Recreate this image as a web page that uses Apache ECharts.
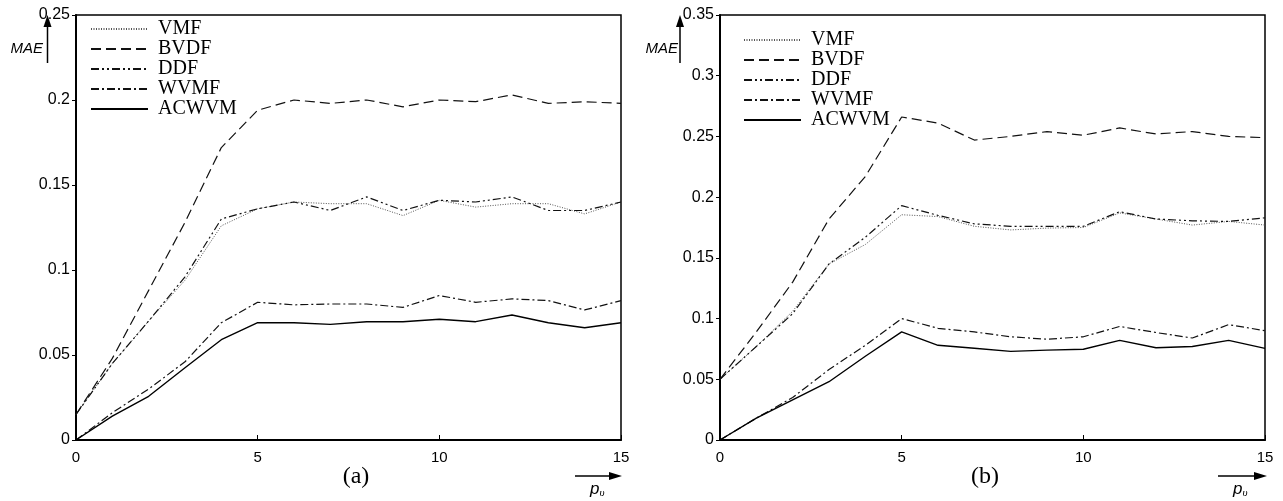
<!DOCTYPE html>
<html>
<head>
<meta charset="utf-8">
<script src="https://cdn.jsdelivr.net/npm/echarts@6/dist/echarts.min.js"></script>
<style>
  html, body { margin: 0; padding: 0; background: #fff; }
  #main { width: 1283px; height: 501px; }
</style>
</head>
<body>
<div id="main"></div>
<script>
// p_v 取值
var pv = [0, 1, 2, 3, 4, 5, 6, 7, 8, 9, 10, 11, 12, 13, 14, 15];
var names = ['VMF', 'BVDF', 'DDF', 'WVMF', 'ACWVM'];

// (a) 图
var vmfA   = [0.015, 0.045, 0.070, 0.094, 0.126, 0.136, 0.140, 0.139, 0.139, 0.132, 0.141, 0.137, 0.139, 0.139, 0.133, 0.140];
var bvdfA  = [0.015, 0.048, 0.088, 0.128, 0.172, 0.194, 0.200, 0.198, 0.200, 0.196, 0.200, 0.199, 0.203, 0.198, 0.199, 0.198];
var ddfA   = [0.015, 0.045, 0.070, 0.096, 0.130, 0.136, 0.140, 0.135, 0.143, 0.135, 0.141, 0.140, 0.143, 0.135, 0.135, 0.140];
var wvmfA  = [0, 0.016, 0.030, 0.046, 0.069, 0.081, 0.0795, 0.080, 0.080, 0.078, 0.085, 0.081, 0.083, 0.082, 0.0765, 0.082];
var acwvmA = [0, 0.014, 0.0257, 0.0425, 0.059, 0.069, 0.069, 0.068, 0.0696, 0.0696, 0.071, 0.0696, 0.0735, 0.069, 0.066, 0.069];

// (b) 图
var vmfB   = [0.05, 0.077, 0.106, 0.145, 0.161, 0.1855, 0.184, 0.176, 0.173, 0.1745, 0.175, 0.187, 0.182, 0.177, 0.180, 0.177];
var bvdfB  = [0.05, 0.089, 0.130, 0.182, 0.217, 0.266, 0.261, 0.247, 0.250, 0.254, 0.251, 0.257, 0.252, 0.254, 0.250, 0.249];
var ddfB   = [0.05, 0.077, 0.104, 0.145, 0.167, 0.193, 0.185, 0.178, 0.176, 0.176, 0.176, 0.188, 0.182, 0.1805, 0.180, 0.183];
var wvmfB  = [0, 0.018, 0.035, 0.058, 0.078, 0.100, 0.092, 0.089, 0.085, 0.083, 0.085, 0.0935, 0.0885, 0.084, 0.095, 0.090];
var acwvmB = [0, 0.018, 0.033, 0.048, 0.069, 0.089, 0.078, 0.0755, 0.073, 0.074, 0.0747, 0.082, 0.076, 0.077, 0.082, 0.0755];

var yTicksA = [0, 0.05, 0.1, 0.15, 0.2, 0.25];
var yTicksB = [0, 0.05, 0.1, 0.15, 0.2, 0.25, 0.3, 0.35];

// 线型
var styles = {
  VMF:   { type: [1, 1.5], width: 1, color: '#555' },
  BVDF:  { type: [10, 5], width: 1.2, color: '#111' },
  DDF:   { type: [8, 3, 2, 3, 2, 3], width: 1.2, color: '#111' },
  WVMF:  { type: [8, 3, 2, 3], width: 1.2, color: '#111' },
  ACWVM: { type: 'solid', width: 1.4, color: '#000' }
};

function pairs(arr) {
  return pv.map(function (x, i) { return [x, arr[i]]; });
}

function mkSeries(name, arr, idx) {
  var s = styles[name];
  return {
    name: name,
    type: 'line',
    xAxisIndex: idx,
    yAxisIndex: idx,
    data: pairs(arr),
    symbol: 'none',
    animation: false,
    color: s.color,
    lineStyle: { type: s.type, width: s.width, color: s.color }
  };
}

function xAx(idx) {
  return {
    type: 'value', gridIndex: idx, min: 0, max: 15, interval: 5,
    axisLine: { lineStyle: { color: '#000', width: 2 } },
    axisTick: { inside: true, length: 5, lineStyle: { color: '#000' } },
    axisLabel: { color: '#000', fontSize: 15, fontFamily: 'Liberation Sans', margin: 10 },
    splitLine: { show: false }
  };
}

function yAx(idx, ticks) {
  return {
    type: 'value', gridIndex: idx, min: 0, max: ticks[ticks.length - 1], interval: 0.05,
    axisLine: { show: true, lineStyle: { color: '#000', width: 2 } },
    axisTick: { show: true, length: 4, lineStyle: { color: '#000' } },
    axisLabel: {
      color: '#000', fontSize: 16, fontFamily: 'Liberation Sans', margin: 6,
      formatter: function (v) { return String(+v.toFixed(2)); }
    },
    splitLine: { show: false }
  };
}

function legendAt(left, top) {
  return {
    orient: 'vertical', left: left, top: top,
    data: names, itemWidth: 57, itemHeight: 10, itemGap: 0,
    padding: 5,
    itemStyle: { opacity: 0 },
    textStyle: { fontFamily: 'Liberation Serif', fontSize: 20, lineHeight: 19.7, color: '#000', padding: [0, 0, 0, 5] }
  };
}

function arrowUp(x, yTop, yBot) {
  return [
    { type: 'line', shape: { x1: x, y1: yTop + 10, x2: x, y2: yBot }, style: { stroke: '#000', lineWidth: 1.5 } },
    { type: 'polygon', shape: { points: [[x - 4, yTop + 12], [x + 4, yTop + 12], [x, yTop]] }, style: { fill: '#000' } }
  ];
}

function arrowRight(x1, x2, y) {
  return [
    { type: 'line', shape: { x1: x1, y1: y, x2: x2 - 10, y2: y }, style: { stroke: '#000', lineWidth: 1.5 } },
    { type: 'polygon', shape: { points: [[x2 - 13, y - 4], [x2 - 13, y + 4], [x2, y]] }, style: { fill: '#000' } }
  ];
}

function pvLabel(x, y) {
  return {
    type: 'text', left: x, top: y,
    style: {
      text: '{p|p}{s|υ}',
      rich: {
        p: { fontFamily: 'Liberation Sans', fontStyle: 'italic', fontSize: 17, fill: '#000' },
        s: { fontFamily: 'Liberation Serif', fontStyle: 'italic', fontSize: 11, fill: '#000', padding: [7, 0, 0, 0] }
      }
    }
  };
}

function maeLabel(right, y) {
  return {
    type: 'text', x: right, y: y,
    style: { text: 'MAE', fontFamily: 'Liberation Sans', fontStyle: 'italic', fontSize: 15, fill: '#000', align: 'right', verticalAlign: 'middle' }
  };
}

function caption(cx, txt) {
  return {
    type: 'text', x: cx, y: 477,
    style: { text: txt, fontFamily: 'Liberation Serif', fontSize: 24, fill: '#000', align: 'center', verticalAlign: 'middle' }
  };
}

var graphics = []
  .concat(arrowUp(47.5, 15, 63))
  .concat(arrowUp(680, 15, 63))
  .concat(arrowRight(575, 622, 476))
  .concat(arrowRight(1218, 1267, 476))
  .concat([
    maeLabel(43, 49), maeLabel(678, 49),
    pvLabel(590, 481), pvLabel(1233, 481),
    caption(356, '(a)'), caption(985, '(b)')
  ]);

var seriesList = [];
[vmfA, bvdfA, ddfA, wvmfA, acwvmA].forEach(function (arr, i) { seriesList.push(mkSeries(names[i], arr, 0)); });
[vmfB, bvdfB, ddfB, wvmfB, acwvmB].forEach(function (arr, i) { seriesList.push(mkSeries(names[i], arr, 1)); });

var myChart = echarts.init(document.getElementById('main'), null, { renderer: 'canvas' });
var option = {
  backgroundColor: '#fff',
  animation: false,
  grid: [
    { left: 76, top: 15, width: 545, height: 425, show: true, borderColor: '#000', borderWidth: 1.5 },
    { left: 720, top: 15, width: 545, height: 425, show: true, borderColor: '#000', borderWidth: 1.5 }
  ],
  xAxis: [xAx(0), xAx(1)],
  yAxis: [yAx(0, yTicksA), yAx(1, yTicksB)],
  legend: [legendAt(85, 14), legendAt(738, 25)],
  series: seriesList,
  graphic: graphics
};
myChart.setOption(option);
</script>
</body>
</html>
